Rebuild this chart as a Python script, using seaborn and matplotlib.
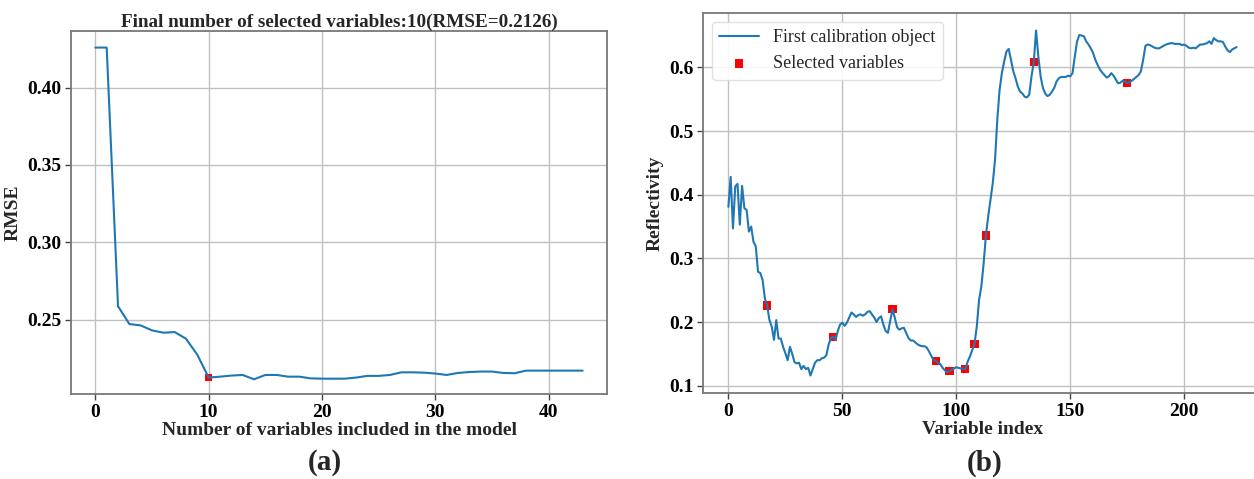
import numpy as np
import pandas as pd
import matplotlib
matplotlib.use("Agg")
import matplotlib.pyplot as plt
import seaborn as sns

# ---------------- data ----------------
rmse = [0.4258, 0.4258, 0.2587, 0.2472, 0.2463, 0.2431, 0.2416, 0.2420, 0.2377, 0.2273,
        0.2126, 0.2132, 0.2139, 0.2143, 0.2115, 0.2143, 0.2143, 0.2132, 0.2132, 0.2121,
        0.2119, 0.2119, 0.2119, 0.2126, 0.2137, 0.2137, 0.2143, 0.2160, 0.2160, 0.2158,
        0.2152, 0.2143, 0.2156, 0.2162, 0.2165, 0.2165, 0.2156, 0.2154, 0.2171, 0.2171,
        0.2171, 0.2171, 0.2171, 0.2171]
n_vars = list(range(len(rmse)))
best_n = 10

spectrum = [
    0.381, 0.428, 0.347, 0.413, 0.417, 0.353, 0.414, 0.379, 0.376, 0.342,
    0.350, 0.326, 0.319, 0.279, 0.277, 0.266, 0.237, 0.226, 0.203, 0.193,
    0.172, 0.203, 0.174, 0.174, 0.161, 0.151, 0.140, 0.161, 0.150, 0.137,
    0.135, 0.136, 0.126, 0.131, 0.126, 0.128, 0.116, 0.126, 0.136, 0.140,
    0.140, 0.143, 0.144, 0.148, 0.165, 0.175, 0.177, 0.172, 0.186, 0.196,
    0.199, 0.194, 0.199, 0.207, 0.215, 0.212, 0.208, 0.211, 0.212, 0.210,
    0.212, 0.216, 0.217, 0.212, 0.207, 0.200, 0.206, 0.209, 0.196, 0.186,
    0.183, 0.202, 0.220, 0.207, 0.192, 0.188, 0.190, 0.191, 0.183, 0.175,
    0.171, 0.171, 0.168, 0.165, 0.163, 0.162, 0.162, 0.160, 0.154, 0.147,
    0.140, 0.139, 0.136, 0.134, 0.128, 0.124, 0.121, 0.123, 0.125, 0.127,
    0.129, 0.128, 0.127, 0.127, 0.126, 0.138, 0.146, 0.156, 0.166, 0.193,
    0.235, 0.256, 0.292, 0.336, 0.366, 0.392, 0.418, 0.455, 0.518, 0.565,
    0.591, 0.609, 0.625, 0.629, 0.612, 0.594, 0.583, 0.570, 0.562, 0.559,
    0.554, 0.553, 0.557, 0.586, 0.608, 0.658, 0.617, 0.586, 0.568, 0.559,
    0.555, 0.557, 0.562, 0.568, 0.578, 0.583, 0.585, 0.585, 0.585, 0.587,
    0.586, 0.591, 0.617, 0.641, 0.651, 0.650, 0.649, 0.641, 0.636, 0.630,
    0.623, 0.612, 0.604, 0.597, 0.592, 0.588, 0.584, 0.586, 0.591, 0.587,
    0.581, 0.575, 0.576, 0.579, 0.578, 0.575, 0.577, 0.579, 0.582, 0.585,
    0.588, 0.594, 0.612, 0.634, 0.636, 0.635, 0.633, 0.631, 0.630, 0.630,
    0.632, 0.634, 0.636, 0.637, 0.638, 0.638, 0.637, 0.637, 0.637, 0.635,
    0.636, 0.634, 0.631, 0.630, 0.631, 0.630, 0.633, 0.636, 0.636, 0.637,
    0.638, 0.641, 0.637, 0.646, 0.643, 0.641, 0.641, 0.640, 0.633, 0.627,
    0.624, 0.628, 0.630, 0.632]
var_index = list(range(len(spectrum)))
selected = [17, 46, 72, 91, 97, 104, 108, 113, 134, 175]

title_a = "Final number of selected variables:10(RMSE=0.2126)"
xlabel_a = "Number of variables included in the model"
ylabel_a = "RMSE"
xlabel_b = "Variable index"
ylabel_b = "Reflectivity"
legend_labels = ["First calibration object", "Selected variables"]
panel_labels = ["(a)", "(b)"]

# ---------------- style ----------------
sns.set_style("whitegrid", {"grid.color": "#c0c0c0", "axes.edgecolor": "#666666",
                            "xtick.bottom": True, "ytick.left": True})
plt.rcParams["font.family"] = ["Liberation Serif", "DejaVu Serif"]
plt.rcParams["xtick.color"] = "#444444"
plt.rcParams["ytick.color"] = "#444444"

W, H = 1254, 479
fig = plt.figure(figsize=(W / 100, H / 100), dpi=100)

ax1 = fig.add_axes([71 / W, 1 - 394 / H, (607 - 71) / W, (394 - 31) / H])
ax2 = fig.add_axes([703 / W, 1 - 393 / H, (1262 - 703) / W, (393 - 13) / H])

blue = "#1f77b4"
df_a = pd.DataFrame({"n": n_vars, "rmse": rmse})
sns.lineplot(data=df_a, x="n", y="rmse", ax=ax1, color=blue, linewidth=1.5)
sns.scatterplot(x=[n_vars[best_n]], y=[rmse[best_n]], ax=ax1, marker="s",
                color="red", s=30, edgecolor="none", zorder=1)

df_b = pd.DataFrame({"idx": var_index, "r": spectrum})
sns.lineplot(data=df_b, x="idx", y="r", ax=ax2, color=blue, linewidth=1.5,
             label=legend_labels[0], zorder=3)
sns.scatterplot(x=selected, y=[spectrum[i] for i in selected], ax=ax2, marker="s",
                color="red", s=34, edgecolor="none", label=legend_labels[1], zorder=2)

for ax in (ax1, ax2):
    ax.tick_params(axis="both", which="major", length=4, width=1, color="#444444",
                   labelcolor="black", pad=3)
    for sp in ax.spines.values():
        sp.set_linewidth(1.3)
        sp.set_color("#777777")
    ax.grid(True, linewidth=1.0)

ax1.set_xlim(-2.15, 45.15)
ax1.set_ylim(0.2020, 0.4365)
ax1.set_xticks([0, 10, 20, 30, 40])
ax1.set_yticks([0.25, 0.30, 0.35, 0.40])
ax1.set_yticklabels(["0.25", "0.30", "0.35", "0.40"])
ax1.set_xticklabels(["0", "10", "20", "30", "40"])
ax1.set_title(title_a, fontsize=13.8, fontweight="bold", pad=3)
ax1.set_xlabel(xlabel_a, fontsize=14, fontweight="bold", labelpad=1)
ax1.set_ylabel(ylabel_a, fontsize=14, fontweight="bold", labelpad=4)

ax2.set_xlim(-11.15, 234.15)
ax2.set_ylim(0.0885, 0.6855)
ax2.set_xticks([0, 50, 100, 150, 200])
ax2.set_xticklabels(["0", "50", "100", "150", "200"])
ax2.set_yticks([0.1, 0.2, 0.3, 0.4, 0.5, 0.6])
ax2.set_yticklabels(["0.1", "0.2", "0.3", "0.4", "0.5", "0.6"])
ax2.set_xlabel(xlabel_b, fontsize=14, fontweight="bold", labelpad=1)
ax2.set_ylabel(ylabel_b, fontsize=14, fontweight="bold", labelpad=4)

for lab in ax1.get_xticklabels() + ax1.get_yticklabels() + ax2.get_xticklabels() + ax2.get_yticklabels():
    lab.set_fontweight("bold")
    lab.set_fontsize(14)

leg = ax2.legend(loc="upper left", prop={"family": "Liberation Serif", "size": 13},
                 frameon=True, borderaxespad=0.5, handlelength=2.2, labelspacing=0.5)
leg.get_frame().set_edgecolor("#dddddd")
leg.get_frame().set_alpha(0.9)

fig.text(325 / W, 1 - 463 / H, panel_labels[0], ha="center", va="center",
         fontsize=21, fontweight="bold")
fig.text(985 / W, 1 - 463 / H, panel_labels[1], ha="center", va="center",
         fontsize=21, fontweight="bold")

fig.savefig("out.png", dpi=100)
